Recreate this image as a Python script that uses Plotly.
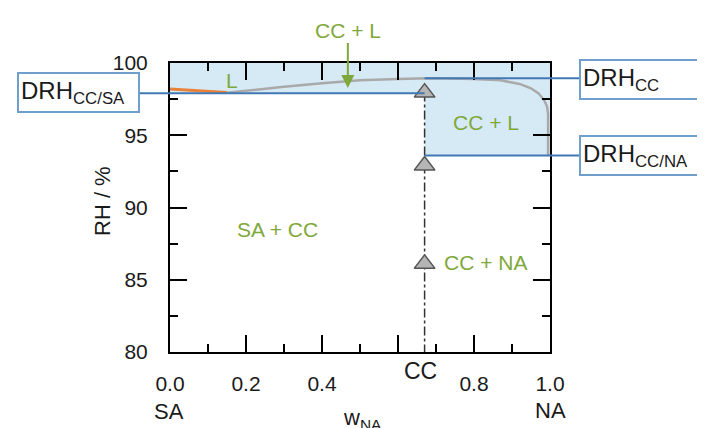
import plotly.graph_objects as go

# ---- data ----
cc_x = 0.67                      # composition of CC (w_NA)
drh_cc_sa = 97.9                 # DRH CC/SA eutonic
drh_cc = 98.95                   # DRH of pure CC
drh_cc_na = 93.6                 # DRH CC/NA eutonic

liq_x = [0.15, 0.2, 0.3, 0.4, 0.5, 0.6, 0.68, 0.8, 0.87, 0.92, 0.95, 0.97, 0.985, 0.992, 0.995, 0.995]
liq_rh = [97.95, 98.1, 98.35, 98.6, 98.8, 98.9, 98.95, 98.9, 98.8, 98.55, 98.25, 97.9, 97.4, 97.0, 96.5, 93.6]

sa_x = [0.0, 0.05, 0.1, 0.15]
sa_rh = [98.2, 98.12, 98.03, 97.95]

tri_x = [cc_x, cc_x, cc_x]
tri_rh = [97.95, 92.9, 86.1]

x_tickvals = [0.0, 0.2, 0.4, 0.6, 0.8, 1.0]
x_ticktext = ["0.0", "0.2", "0.4", "", "0.8", "1.0"]
y_tickvals = [80, 85, 90, 95, 100]

GREEN = "#7fa83a"
BLUE = "#4178b4"
FONT = "Liberation Sans, Arial, sans-serif"

# page has an 8px body margin: figure is placed at (8, 8)
OFF = 8
W, H = 705 - OFF, 428 - OFF
L, T = 170 - OFF, 63 - OFF
R = W - (550 - OFF)
B = H - (352 - OFF)
pw, ph = W - L - R, H - T - B


def px(xp):          # page pixel x -> paper
    return (xp - OFF - L) / pw


def py(yp):          # page pixel y -> paper
    return (H - B - (yp - OFF)) / ph


fig = go.Figure()

# shaded liquid-containing region
fig.add_trace(go.Scatter(
    x=[0, cc_x, cc_x, 1, 1, 0, 0],
    y=[drh_cc_sa, drh_cc_sa, drh_cc_na, drh_cc_na, 100, 100, drh_cc_sa],
    fill="toself", fillcolor="#d6eaf6", line=dict(width=0),
    mode="lines", hoverinfo="skip", showlegend=False))

# dash-dot CC composition line
fig.add_trace(go.Scatter(
    x=[cc_x, cc_x], y=[tri_rh[0], 80], mode="lines",
    line=dict(color="#333333", width=1.5, dash="dashdot"), showlegend=False))

# liquidus curves
fig.add_trace(go.Scatter(x=liq_x, y=liq_rh, mode="lines",
                         line=dict(color="#a9a9a9", width=2.5), showlegend=False))
fig.add_trace(go.Scatter(x=sa_x, y=sa_rh, mode="lines",
                         line=dict(color="#e8823a", width=3), showlegend=False))

# DRH lines (paper x, data y)
for x0, x1, yv in [(px(139), cc_x, drh_cc_sa), (cc_x, px(581), drh_cc), (cc_x, px(581), drh_cc_na)]:
    fig.add_shape(type="line", xref="paper", yref="y", x0=x0, x1=x1, y0=yv, y1=yv,
                  line=dict(color=BLUE, width=2), layer="above")

# triangles
fig.add_trace(go.Scatter(x=tri_x, y=tri_rh, mode="markers",
                         marker=dict(symbol="triangle-up", size=18, color="#b5b5b5",
                                     line=dict(color="#555555", width=1.5)),
                         showlegend=False, cliponaxis=False))

ann = []
# DRH boxes
for text, cx, cy in [("DRH<sub>CC/SA</sub>", 78, 92.5), ("DRH<sub>CC</sub>", 640.5, 79.5),
                     ("DRH<sub>CC/NA</sub>", 640.5, 155.5)]:
    ann.append(dict(text=text, xref="paper", yref="paper", x=px(cx), y=py(cy),
                    xanchor="center", yanchor="middle", showarrow=False,
                    font=dict(size=24, color="#1a1a1a", family=FONT),
                    bordercolor="#6f9fcc", borderwidth=2, borderpad=2, bgcolor="white",
                    width=115, height=33, align="left"))

# region labels
for text, x, y in [("SA + CC", 0.282, 88.5), ("CC + L", 0.832, 95.85),
                   ("CC + NA", 0.83, 86.2), ("L", 0.163, 98.8)]:
    ann.append(dict(text=text, x=x, y=y, xref="x", yref="y", showarrow=False,
                    font=dict(size=21, color=GREEN, family=FONT)))

# top CC + L with arrow
ann.append(dict(text="CC + L", x=0.468, y=98.27, xref="x", yref="y", showarrow=True,
                ax=0, ay=-58, arrowhead=2, arrowsize=1.3, arrowwidth=2, arrowcolor=GREEN,
                font=dict(size=21, color=GREEN, family=FONT)))

# axis extra labels
for text, xp_, yp_, size in [("SA", 169, 411, 22), ("NA", 550, 410, 22), ("CC", 420, 371, 23),
                             ("w<sub>NA</sub>", 362, 419, 22)]:
    ann.append(dict(text=text, xref="paper", yref="paper", x=px(xp_), y=py(yp_),
                    xanchor="center", yanchor="middle", showarrow=False,
                    font=dict(size=size, color="#1a1a1a", family=FONT)))

ann.append(dict(text="RH / %", xref="paper", yref="paper", x=px(102), y=py(201),
                xanchor="center", yanchor="middle", showarrow=False, textangle=-90,
                font=dict(size=22, color="#1a1a1a", family=FONT)))

axis_common = dict(showline=True, linecolor="black", linewidth=2, mirror="ticks",
                   ticks="inside", ticklen=17, tickwidth=2, tickcolor="black",
                   showgrid=False, zeroline=False,
                   tickfont=dict(size=21, color="#1a1a1a", family=FONT))

fig.update_layout(
    width=W, height=H, margin=dict(l=L, r=R, t=T, b=B, autoexpand=False),
    paper_bgcolor="white", plot_bgcolor="white",
    xaxis=dict(range=[0, 1], tickmode="array", tickvals=x_tickvals, ticktext=x_ticktext,
               minor=dict(tickmode="array", tickvals=[0.1, 0.3, 0.5, 0.7, 0.9], ticklen=8,
                          tickwidth=2, tickcolor="black", ticks="inside"),
               ticklabelstandoff=12, **axis_common),
    yaxis=dict(range=[80, 100], tickmode="array", tickvals=y_tickvals,
               minor=dict(tickmode="array", tickvals=[82.5, 87.5, 92.5, 97.5], ticklen=8,
                          tickwidth=2, tickcolor="black", ticks="inside"),
               ticklabelstandoff=16, **axis_common),
    annotations=ann, showlegend=False,
)

fig.write_html("out.html")
